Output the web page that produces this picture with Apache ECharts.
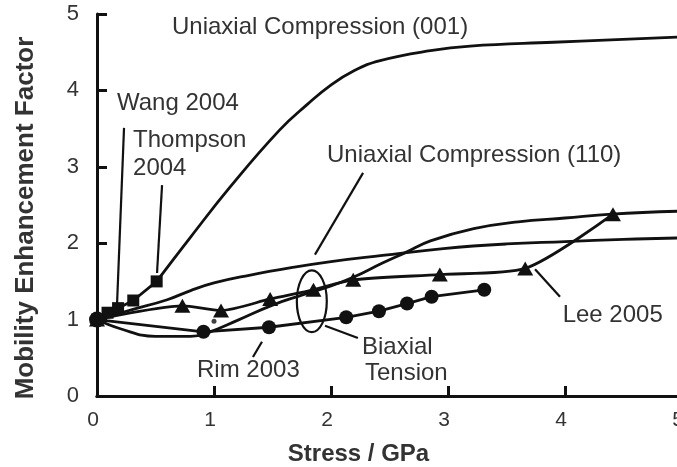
<!DOCTYPE html>
<html>
<head>
<meta charset="utf-8">
<script src="https://cdn.jsdelivr.net/npm/echarts@6/dist/echarts.min.js"></script>
<style>
  html, body { margin: 0; padding: 0; background: #fff; }
  #chart { width: 677px; height: 467px; }
</style>
</head>
<body>
<div id="chart"></div>
<script>
// Stress (GPa) vs. mobility enhancement factor

// Uniaxial compression along (001), theory curve (continues from the last square)
const compression001 = [[0.51,1.5],[0.8,2.08],[1.14,2.74],[1.56,3.48],[1.8,3.82],[1.99,4.06],[2.2,4.26],[2.42,4.39],[2.85,4.52],[3.19,4.58],[3.9,4.63],[5,4.7]];
// Wang 2004 / Thompson 2004 measurements
const wangThompson = [[0,1],[0.09,1.09],[0.18,1.15],[0.31,1.25],[0.51,1.5]];
// Uniaxial compression along (110), theory curve
const compression110 = [[0,1],[0.3,1.13],[0.6,1.26],[0.8,1.38],[1.0,1.48],[1.3,1.58],[1.66,1.68],[2.0,1.76],[2.44,1.84],[2.96,1.93],[3.5,1.99],[4.0,2.02],[4.5,2.05],[5,2.07]];
// Biaxial tension, theory curve
const biaxialTension = [[0,1],[0.2,0.88],[0.5,0.78],[0.8,0.78],[0.95,0.83],[1.2,0.99],[1.5,1.19],[1.75,1.32],[2.0,1.44],[2.2,1.56],[2.44,1.74],[2.64,1.88],[2.85,2.03],[3.22,2.19],[3.6,2.28],[4.0,2.33],[4.4,2.38],[5,2.42]];
// Lee 2005 measurements
const lee2005 = [[0,1],[0.73,1.18],[1.06,1.12],[1.48,1.27],[1.85,1.39],[2.19,1.52],[2.93,1.59],[3.66,1.67],[4.41,2.38]];
const leeDot = [[1.0,0.98]];
// Rim 2003 measurements
const rim2003 = [[0,1],[0.91,0.84],[1.47,0.9],[2.13,1.03],[2.41,1.11],[2.65,1.21],[2.86,1.3],[3.31,1.39]];

// Annotation text: [x, y, text], anchored at the left/middle of the text
const labels = [
  [0.641, 4.83, 'Uniaxial Compression (001)'],
  [0.171, 3.835, 'Wang 2004'],
  [0.308, 3.35, 'Thompson'],
  [0.308, 2.98, '2004'],
  [1.966, 3.155, 'Uniaxial Compression (110)'],
  [0.855, 0.34, 'Rim 2003'],
  [2.265, 0.64, 'Biaxial'],
  [2.29, 0.30, 'Tension'],
  [3.98, 1.06, 'Lee 2005']
];
// Leader lines from labels to curves
const pointers = [
  [[0.231,3.51],[0.171,1.19]],
  [[0.556,2.76],[0.513,1.61]],
  [[2.274,2.92],[1.863,1.85]],
  [[1.41,0.71],[1.333,0.51]],
  [[1.949,0.92],[2.23,0.76]],
  [[3.744,1.66],[3.957,1.30]]
];
// Ellipse grouping the biaxial points: [cx, cy, rx, ry] in data units
const ellipseMark = [[1.836,1.24,0.128,0.405]];

const xTicks = { min: 0, max: 5, interval: 1 };
const yTicks = { min: 0, max: 5, interval: 1 };

const INK = '#111';
const TEXT = '#333';
const FONT = '"Liberation Sans", Arial, sans-serif';
const LW = 2.8;

const chart = echarts.init(document.getElementById('chart'), null, { renderer: 'canvas' });

function curve(data, smooth) {
  return {
    type: 'line', data: data, smooth: smooth,
    showSymbol: false, symbol: 'none', z: 3,
    lineStyle: { color: INK, width: LW }, silent: true, animation: false
  };
}
function dataLine(data, symbol, size, smooth) {
  return {
    type: 'line', data: data, smooth: smooth || false,
    symbol: symbol, symbolSize: size, showSymbol: true, z: 4,
    itemStyle: { color: INK, borderWidth: 0 },
    lineStyle: { color: INK, width: LW }, silent: true, animation: false
  };
}

const series = [
  curve(compression001, 0.45),
  curve(compression110, 0.45),
  curve(biaxialTension, 0.45),
  dataLine(wangThompson, 'rect', 12),
  dataLine(lee2005, 'triangle', [16, 14], 0.25),
  dataLine(rim2003, 'circle', 14),
  {
    type: 'scatter', data: leeDot, symbol: 'circle', symbolSize: 5,
    itemStyle: { color: INK }, silent: true, animation: false
  }
];
// origin point drawn a little larger
series[5].data = rim2003.map((p, i) => i === 0 ? { value: p, symbolSize: 16 } : p);

pointers.forEach(seg => {
  series.push({
    type: 'line', data: seg, symbol: 'none', z: 2,
    lineStyle: { color: INK, width: 2.2 }, silent: true, animation: false
  });
});

series.push({
  type: 'custom', silent: true, animation: false, z: 5, clip: false,
  data: ellipseMark,
  renderItem: function (params, api) {
    const c = api.coord([api.value(0), api.value(1)]);
    const s = api.size([api.value(2), api.value(3)]);
    return {
      type: 'ellipse',
      shape: { cx: c[0], cy: c[1], rx: s[0], ry: s[1] },
      style: { fill: 'none', stroke: INK, lineWidth: 2.2 }
    };
  }
});

series.push({
  type: 'custom', silent: true, animation: false, z: 6, clip: false,
  data: labels.map(l => [l[0], l[1]]),
  renderItem: function (params, api) {
    const p = api.coord([api.value(0), api.value(1)]);
    return {
      type: 'text', x: p[0], y: p[1],
      style: {
        text: labels[params.dataIndex][2],
        font: '24px ' + FONT, fill: TEXT,
        align: 'left', verticalAlign: 'middle'
      }
    };
  }
});

chart.setOption({
  animation: false,
  backgroundColor: '#fff',
  grid: { left: 97, right: -5, top: 14, bottom: 71, containLabel: false, outerBoundsMode: 'none' },
  xAxis: [{
    type: 'value', min: xTicks.min, max: xTicks.max, interval: xTicks.interval,
    name: 'Stress / GPa', nameLocation: 'middle', nameGap: 46,
    nameTextStyle: { color: TEXT, fontSize: 24, fontWeight: 'bold', fontFamily: FONT, padding: [0, 62, 0, 0] },
    axisLine: { show: true, onZero: false, lineStyle: { color: INK, width: 3 } },
    axisTick: { show: true, inside: true, length: 10, lineStyle: { color: INK, width: 3 } },
    axisLabel: {
      color: TEXT, fontSize: 21, fontFamily: FONT, margin: 14,
      padding: [0, 8, 0, 0], showMaxLabel: true, showMinLabel: true, hideOverlap: false
    },
    splitLine: { show: false }
  }, {
    type: 'value', position: 'top', min: xTicks.min, max: xTicks.max,
    axisLine: { show: true, lineStyle: { color: INK, width: 3 } },
    axisTick: { show: false }, axisLabel: { show: false }, splitLine: { show: false }
  }],
  yAxis: {
    type: 'value', min: yTicks.min, max: yTicks.max, interval: yTicks.interval,
    name: 'Mobility Enhancement Factor', nameLocation: 'middle', nameGap: 58,
    nameTextStyle: { color: TEXT, fontSize: 26, fontWeight: 'bold', fontFamily: FONT, padding: [0, 26, 0, 0] },
    axisLine: { show: true, onZero: false, lineStyle: { color: INK, width: 3 } },
    axisTick: { show: true, inside: true, length: 10, lineStyle: { color: INK, width: 3 } },
    axisLabel: { color: TEXT, fontSize: 22, fontFamily: FONT, margin: 18 },
    splitLine: { show: false }
  },
  series: series
});
</script>
</body>
</html>
